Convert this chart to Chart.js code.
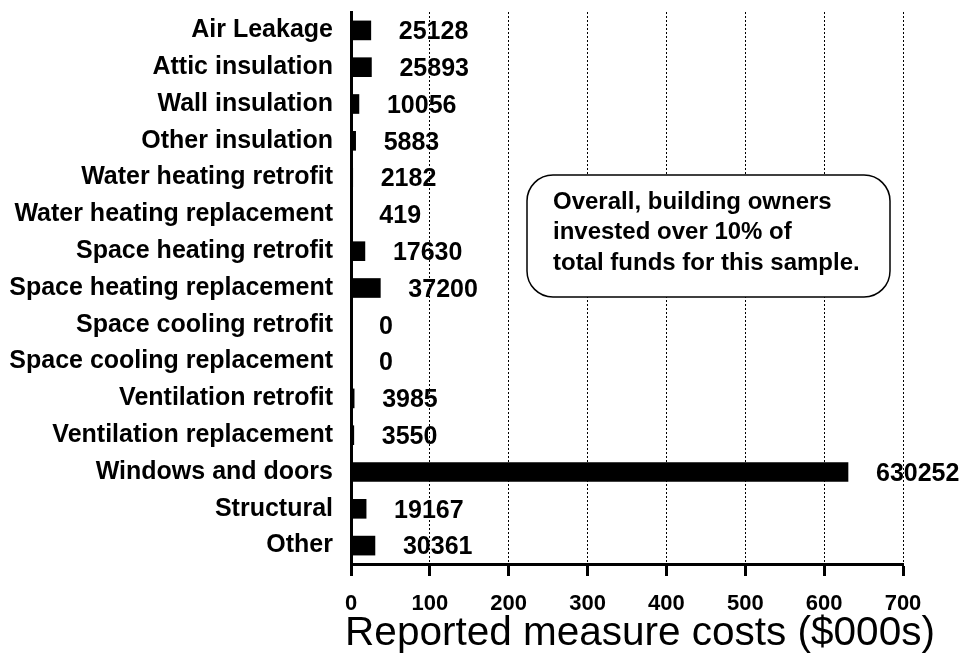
<!DOCTYPE html>
<html>
<head>
<meta charset="utf-8">
<script src="https://cdn.jsdelivr.net/npm/chart.js@4/dist/chart.umd.min.js"></script>
<style>
  html, body { margin: 0; padding: 0; background: #fff; }
  #wrap { width: 972px; height: 658px; position: relative; }
</style>
</head>
<body>
<div id="wrap"><canvas id="c" width="972" height="658"></canvas></div>
<script>
const categories = [
  "Air Leakage", "Attic insulation", "Wall insulation", "Other insulation",
  "Water heating retrofit", "Water heating replacement", "Space heating retrofit",
  "Space heating replacement", "Space cooling retrofit", "Space cooling replacement",
  "Ventilation retrofit", "Ventilation replacement", "Windows and doors",
  "Structural", "Other"
];
const costsDollars = [
  25128, 25893, 10056, 5883, 2182, 419, 17630, 37200, 0, 0, 3985, 3550, 630252, 19167, 30361
];
const xTicks = [0, 100, 200, 300, 400, 500, 600, 700];
const axisTitle = "Reported measure costs ($000s)";
const noteLines = ["Overall, building owners", "invested over 10% of", "total funds for this sample."];

const costsThousands = costsDollars.map(v => v / 1000);
const FONT = "'Liberation Sans', Arial, sans-serif";

const valueLabels = {
  id: 'valueLabels',
  afterDatasetsDraw(chart) {
    const ctx = chart.ctx;
    const meta = chart.getDatasetMeta(0);
    ctx.save();
    ctx.fillStyle = '#000';
    ctx.font = 'bold 25px ' + FONT;
    ctx.textAlign = 'left';
    ctx.textBaseline = 'middle';
    meta.data.forEach((bar, i) => {
      ctx.fillText(String(costsDollars[i]), bar.x + 28, bar.y + 2);
    });
    ctx.restore();
  }
};

const xTitle = {
  id: 'xTitle',
  afterDraw(chart) {
    const ctx = chart.ctx;
    ctx.save();
    ctx.fillStyle = '#000';
    ctx.font = '40.5px ' + FONT;
    ctx.textAlign = 'center';
    ctx.textBaseline = 'middle';
    ctx.fillText(axisTitle, 640, 634);
    ctx.restore();
  }
};

const noteBox = {
  id: 'noteBox',
  afterDraw(chart) {
    const ctx = chart.ctx;
    const x = 527, y = 175, w = 363, h = 122, r = 26;
    ctx.save();
    ctx.fillStyle = '#fff';
    ctx.strokeStyle = '#000';
    ctx.lineWidth = 1.5;
    ctx.beginPath();
    ctx.roundRect(x, y, w, h, r);
    ctx.fill();
    ctx.stroke();
    ctx.fillStyle = '#000';
    ctx.font = 'bold 24px ' + FONT;
    ctx.textAlign = 'left';
    ctx.textBaseline = 'middle';
    noteLines.forEach((t, i) => ctx.fillText(t, 553, 202 + i * 30.5));
    ctx.restore();
  }
};

new Chart(document.getElementById('c'), {
  type: 'bar',
  data: {
    labels: categories,
    datasets: [{
      data: costsThousands,
      backgroundColor: '#000',
      borderWidth: 0,
      barThickness: 19
    }]
  },
  options: {
    indexAxis: 'y',
    responsive: false,
    animation: false,
    layout: { padding: { top: 12, right: 69, bottom: 0, left: 0 } },
    plugins: { legend: { display: false }, tooltip: { enabled: false } },
    scales: {
      x: {
        min: 0, max: 700,
        afterBuildTicks(scale) { scale.ticks = xTicks.map(v => ({ value: v })); },
        afterFit(scale) { scale.height = 94; },
        ticks: { color: '#000', font: { family: FONT, size: 22, weight: 'bold' }, padding: 15 },
        grid: {
          color: ctx => (ctx.tick && ctx.tick.value === 0) ? 'rgba(0,0,0,0)' : '#000',
          lineWidth: 1,
          drawTicks: true,
          tickLength: 12,
          tickColor: '#000',
          tickWidth: 3,
          tickBorderDash: []
        },
        border: { display: true, color: '#000', width: 3, dash: [2, 2] },
        title: { display: false, text: axisTitle }
      },
      y: {
        afterFit(scale) { scale.width = 351; scale.paddingTop = 0; scale.paddingBottom = 0; },
        ticks: { color: '#000', font: { family: FONT, size: 25, weight: 'bold' }, padding: 18, autoSkip: false },
        grid: { display: false, drawTicks: false },
        border: { display: true, color: '#000', width: 3 }
      }
    }
  },
  plugins: [valueLabels, noteBox, xTitle]
});
</script>
</body>
</html>
